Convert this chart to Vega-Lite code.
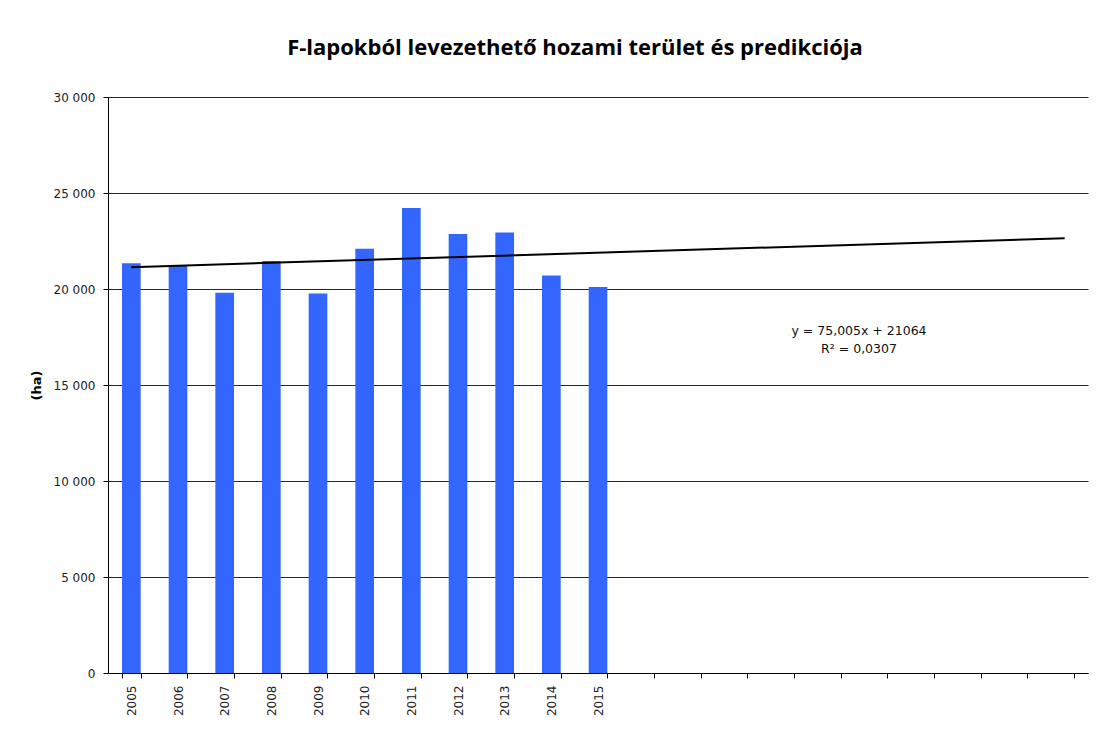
{
  "$schema": "https://vega.github.io/schema/vega-lite/v6.json",
  "width": 980,
  "height": 576,
  "autosize": "none",
  "padding": {"left": 108, "top": 97, "right": 16, "bottom": 58},
  "background": "white",
  "title": {
    "text": "F-lapokból levezethető hozami terület és predikciója",
    "font": "Open Sans",
    "fontSize": 22,
    "fontWeight": "bold",
    "color": "#000000",
    "anchor": "middle",
    "dx": -23,
    "offset": 31
  },
  "datasets": {
    "bars": [
      {"year": "2005", "area": 21340},
      {"year": "2006", "area": 21200},
      {"year": "2007", "area": 19810},
      {"year": "2008", "area": 21460},
      {"year": "2009", "area": 19760},
      {"year": "2010", "area": 22100},
      {"year": "2011", "area": 24220},
      {"year": "2012", "area": 22870},
      {"year": "2013", "area": 22940},
      {"year": "2014", "area": 20700},
      {"year": "2015", "area": 20110}
    ],
    "trend": [
      {"year": "2005", "value": 21139},
      {"year": "2025", "value": 22639}
    ],
    "notes": [
      {"year": "2021", "value": 17800, "text": "y = 75,005x + 21064"},
      {"year": "2021", "value": 16900, "text": "R² = 0,0307"}
    ]
  },
  "config": {
    "view": {"stroke": null},
    "axis": {
      "labelFont": "DejaVu Sans",
      "labelFontSize": 12,
      "labelColor": "#222222",
      "domainColor": "#000000",
      "tickColor": "#000000",
      "tickSize": 5
    }
  },
  "layer": [
    {
      "data": {"name": "bars"},
      "mark": {"type": "bar", "color": "#3366FF"},
      "encoding": {
        "x": {
          "field": "year",
          "type": "ordinal",
          "scale": {
            "domain": ["2005","2006","2007","2008","2009","2010","2011","2012","2013","2014","2015","2016","2017","2018","2019","2020","2021","2022","2023","2024","2025"],
            "paddingInner": 0.6,
            "paddingOuter": 0.3
          },
          "axis": {
            "title": null,
            "labelAngle": -90,
            "labelExpr": "toNumber(datum.value) <= 2015 ? datum.label : ''",
            "tickBand": "extent",
            "labelPadding": 7,
            "grid": false
          }
        },
        "y": {
          "field": "area",
          "type": "quantitative",
          "scale": {"domain": [0, 30000]},
          "axis": {
            "title": "(ha)",
            "titleFont": "DejaVu Sans",
            "titleFontSize": 13,
            "titleFontWeight": "bold",
            "titleColor": "#000000",
            "titleX": -65,
            "titleY": 288,
            "values": [0, 5000, 10000, 15000, 20000, 25000, 30000],
            "labelExpr": "replace(format(datum.value, ','), ',', ' ')",
            "labelPadding": 8,
            "grid": true,
            "gridColor": "#000000",
            "gridOpacity": 0.85,
            "gridWidth": 1
          }
        }
      }
    },
    {
      "data": {"name": "trend"},
      "mark": {"type": "line", "color": "#000000", "strokeWidth": 2},
      "encoding": {
        "x": {"field": "year", "type": "ordinal"},
        "y": {"field": "value", "type": "quantitative"}
      }
    },
    {
      "data": {"name": "notes"},
      "mark": {"type": "text", "font": "DejaVu Sans", "fontSize": 12.5, "color": "#111111", "dx": -19, "align": "center", "baseline": "middle"},
      "encoding": {
        "x": {"field": "year", "type": "ordinal"},
        "y": {"field": "value", "type": "quantitative"},
        "text": {"field": "text"}
      }
    }
  ]
}
